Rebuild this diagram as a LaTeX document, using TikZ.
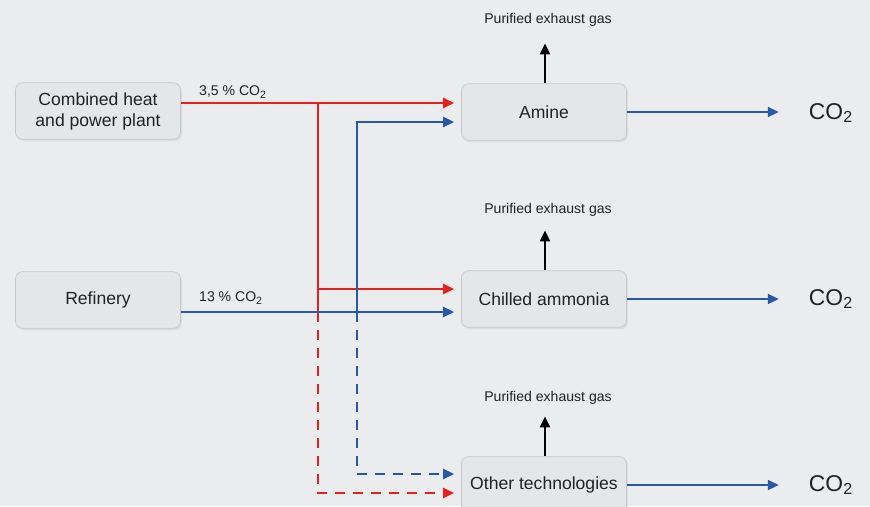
\documentclass[tikz,border=0pt]{standalone}
\usepackage{fontspec}
\setmainfont{Liberation Sans}
\usetikzlibrary{arrows.meta,shadows}
\begin{document}
\begin{tikzpicture}[font=\fontsize{10}{12}\selectfont,
bloc/.style={draw=bord,fill=boite,rounded corners=4pt,minimum width=3.3cm,minimum height=1.13cm,align=center,text=texte,
  drop shadow={opacity=0.12,shadow xshift=0.03cm,shadow yshift=-0.04cm}},
flux/.style={line width=1.2pt},
fleche/.style={flux,-{Triangle[length=0.22cm,width=0.2cm]},shorten >=0.14cm},
tirets/.style={dash pattern=on 0.2cm off 0.16cm},
petit/.style={font=\fontsize{8}{9}\selectfont,text=texte}]
\definecolor{fond}{RGB}{235,236,238}
\definecolor{boite}{RGB}{229,230,232}
\definecolor{bord}{RGB}{198,199,202}
\definecolor{texte}{RGB}{34,34,34}
\definecolor{rouge}{RGB}{232,32,30}
\definecolor{bleu}{RGB}{40,88,168}
\fill[fond] (0,0) rectangle (17.4,-10.12);
\useasboundingbox (0,0) rectangle (17.4,-10.12);
% sources
\node[bloc] (chp) at (1.96,-2.22) {Combined heat\\and power plant};
\node[bloc] (refinery) at (1.96,-6.0) {Refinery};
% procedes de capture
\node[bloc] (amine) at (10.88,-2.24) {Amine};
\node[bloc] (ammonia) at (10.88,-5.98) {Chilled ammonia};
\node[bloc] (other) at (10.88,-9.7) {Other technologies};
% sorties
\node[petit] (gas1) at (10.96,-0.4) {Purified exhaust gas};
\node[petit] (gas2) at (10.96,-4.2) {Purified exhaust gas};
\node[petit] (gas3) at (10.96,-7.96) {Purified exhaust gas};
\node[font=\fontsize{13}{15}\selectfont,text=texte] (co1) at (16.62,-2.26) {CO\textsubscript{2}};
\node[font=\fontsize{13}{15}\selectfont,text=texte] (co2) at (16.62,-5.98) {CO\textsubscript{2}};
\node[font=\fontsize{13}{15}\selectfont,text=texte] (co3) at (16.62,-9.7) {CO\textsubscript{2}};
% points de jonction
\coordinate (r1) at (6.36,-2.06);
\coordinate (r2) at (6.36,-5.78);
\coordinate (r3) at (6.36,-6.24);
\coordinate (r4) at (6.36,-9.86);
\coordinate (b1) at (7.14,-2.44);
\coordinate (b2) at (7.14,-6.24);
\coordinate (b3) at (7.14,-9.48);
% gaz de combustion
\draw[flux,rouge] (chp.east |- r1) -- (r1);
\draw[fleche,rouge] (r1) -- (amine.west |- r1);
\draw[flux,rouge] (r1) -- (r3);
\draw[fleche,rouge] (r2) -- (ammonia.west |- r2);
\draw[fleche,rouge,tirets] (r3) -- (r4) -- (other.west |- r4);
\draw[fleche,bleu] (refinery.east |- b2) -- (ammonia.west |- b2);
\draw[fleche,bleu] (b2) -- (b1) -- (amine.west |- b1);
\draw[fleche,bleu,tirets] (b2) -- (b3) -- (other.west |- b3);
\node[petit,anchor=west] (lab1) at (3.86,-1.84) {3,5 \% CO\textsubscript{2}};
\node[petit,anchor=west] (lab2) at (3.86,-5.96) {13 \% CO\textsubscript{2}};
% gaz purifie et CO2
\foreach \p/\g/\c in {amine/gas1/co1,ammonia/gas2/co2,other/gas3/co3}{
  \draw[flux,black,-{Triangle[length=0.22cm,width=0.2cm]}] ([xshift=0.02cm]\p.north) -- ([xshift=0.02cm,yshift=0.8cm]\p.north);
  \draw[fleche,bleu] (\p.east) -- ([xshift=-0.34cm]\c.west |- \p.east);
}
\end{tikzpicture}
\end{document}
